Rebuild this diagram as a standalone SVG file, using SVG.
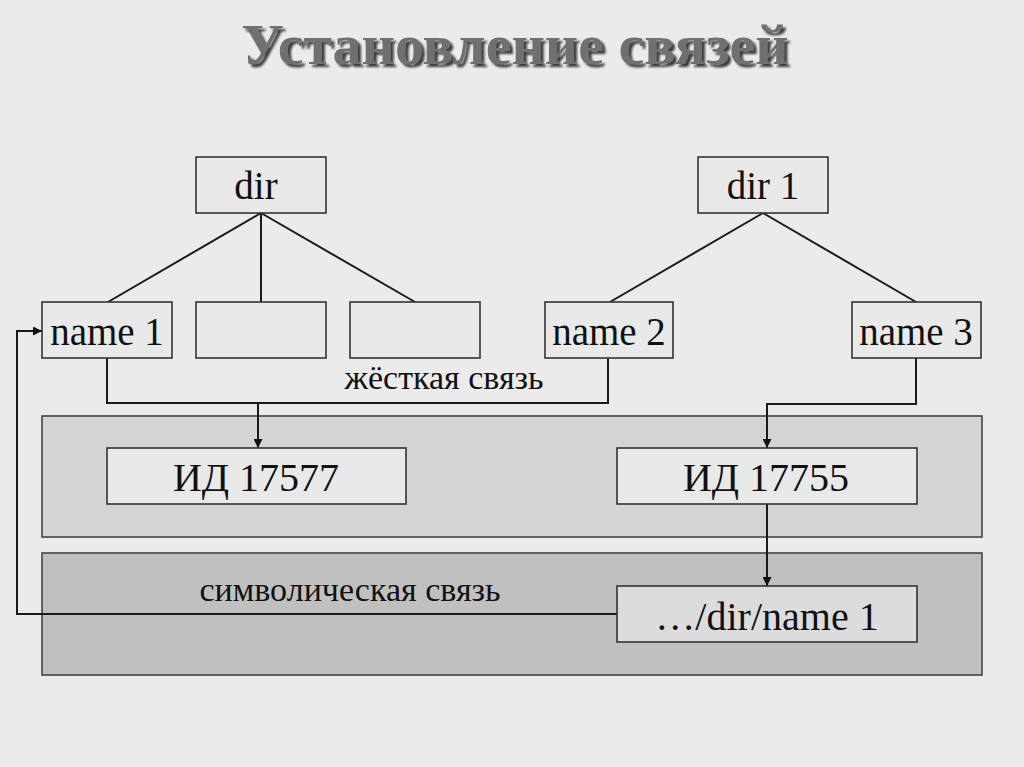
<svg xmlns="http://www.w3.org/2000/svg" width="1024" height="767" viewBox="0 0 1024 767">
<style>
.box{fill:#e9e9e9;stroke:#333;stroke-width:1.6}
.t{font-family:"Liberation Serif","Times New Roman",serif;fill:#111;text-anchor:middle}
.n{font-size:39px}
.id{font-size:40px}
.lbl{font-size:34px}
.ln{fill:none;stroke:#1a1a1a;stroke-width:2}
</style>
<defs>
<marker id="ar" viewBox="0 0 10 10" refX="10" refY="5" markerWidth="9" markerHeight="9" markerUnits="userSpaceOnUse" orient="auto">
<path d="M0,0 L10,5 L0,10 z" fill="#111"/>
</marker>
<filter id="sh" x="-5%" y="-30%" width="110%" height="160%">
<feOffset in="SourceAlpha" dx="3" dy="3" result="o"/>
<feGaussianBlur in="o" stdDeviation="1.3" result="b"/>
<feFlood flood-color="#222" flood-opacity="0.85"/>
<feComposite in2="b" operator="in" result="s"/>
<feMerge><feMergeNode in="s"/><feMergeNode in="SourceGraphic"/></feMerge>
</filter>
</defs>
<rect width="1024" height="767" fill="#ebebeb"/>
<g id="title">
<text x="515" y="64" class="t" style="font-size:58px;font-weight:bold;fill:#6f6f6f" filter="url(#sh)">Установление связей</text>
</g>
<g id="panel-inodes"><rect x="42" y="416" width="940" height="121" fill="#d4d4d4" stroke="#444" stroke-width="1.6"/></g>
<g id="panel-symlink"><rect x="42" y="553" width="940" height="122" fill="#c0c0c0" stroke="#444" stroke-width="1.6"/></g>
<g id="connectors">
<path class="ln" d="M261,213 L108,302 M261,213 L261,302 M261,213 L415,302"/>
<path class="ln" d="M763,213 L610,302 M763,213 L916,302"/>
<path class="ln" d="M107,358 L107,403 L608,403 L608,358"/>
<path class="ln" d="M258,403 L258,448" marker-end="url(#ar)"/>
<path class="ln" d="M916,358 L916,404 L767,404 L767,448" marker-end="url(#ar)"/>
<path class="ln" d="M767,504 L767,586" marker-end="url(#ar)"/>
<path class="ln" d="M617,614 L17,614 L17,331 L42,331" marker-end="url(#ar)"/>
</g>
<g id="node-dir"><rect class="box" x="196" y="157" width="130" height="56"/><text class="t n" x="256" y="199">dir</text></g>
<g id="node-dir1"><rect class="box" x="698" y="157" width="130" height="56"/><text class="t n" x="763" y="199">dir 1</text></g>
<g id="node-name1"><rect class="box" x="42" y="302" width="130" height="56"/><text class="t n" x="107" y="345">name 1</text></g>
<g id="node-empty1"><rect class="box" x="196" y="302" width="130" height="56"/></g>
<g id="node-empty2"><rect class="box" x="350" y="302" width="130" height="56"/></g>
<g id="node-name2"><rect class="box" x="545" y="302" width="128" height="56"/><text class="t n" x="609" y="345">name 2</text></g>
<g id="node-name3"><rect class="box" x="852" y="302" width="129" height="56"/><text class="t n" x="916" y="345">name 3</text></g>
<g id="label-hard"><text class="t lbl" x="444" y="389">жёсткая связь</text></g>
<g id="node-id17577"><rect class="box" x="107" y="448" width="299" height="56"/><text class="t id" x="256" y="491">ИД 17577</text></g>
<g id="node-id17755"><rect class="box" x="617" y="448" width="300" height="56"/><text class="t id" x="766" y="491">ИД 17755</text></g>
<g id="label-sym"><text class="t lbl" x="350" y="601">символическая связь</text></g>
<g id="node-path"><rect class="box" x="617" y="586" width="300" height="56" style="fill:#dcdcdc"/><text class="t id" x="767" y="630">…/dir/name 1</text></g>
</svg>
